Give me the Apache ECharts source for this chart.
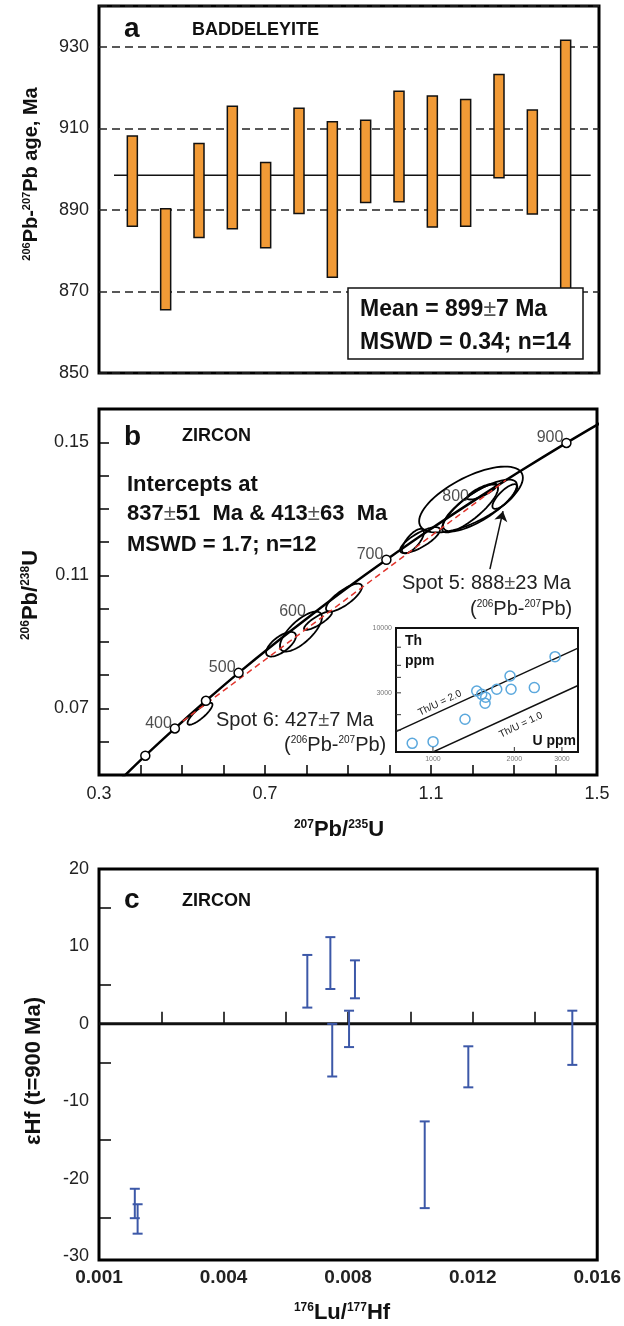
<!DOCTYPE html>
<html>
<head>
<meta charset="utf-8">
<script src="https://cdn.jsdelivr.net/npm/echarts@6/dist/echarts.min.js"></script>
<style>
  html, body { margin: 0; padding: 0; background: #fff; }
  #chart { width: 624px; height: 1326px; }
</style>
</head>
<body>
<div id="chart"></div>
<script>
// 字体
const FONT = '"Liberation Sans", Arial, sans-serif';

// ---- a: 斜锆石 206Pb-207Pb 年龄 ----
const aSpots = [1, 2, 3, 4, 5, 6, 7, 8, 9, 10, 11, 12, 13, 14];
const aLow = [886.0, 865.5, 883.2, 885.4, 880.7, 889.1, 873.5, 891.8, 892.0, 885.8, 886.0, 897.9, 889.0, 867.0];
const aHigh = [908.1, 890.3, 906.3, 915.4, 901.6, 914.9, 911.6, 912.0, 919.1, 917.9, 917.1, 923.2, 914.5, 931.6];
const aMeanLine = [[0.45, 898.5], [14.75, 898.5]];
const aYTickLabels = [850, 870, 890, 910, 930];

// ---- b: 谐和图 ----
const concAges = [300, 350, 400, 450, 500, 550, 600, 650, 700, 750, 800, 850, 900, 950];
const concX = [0.3437, 0.4116, 0.4828, 0.5577, 0.6363, 0.7189, 0.8056, 0.8968, 0.9925, 1.0931, 1.1987, 1.3097, 1.4263, 1.5488];
const concY = [0.0476, 0.0558, 0.0640, 0.0723, 0.0807, 0.0891, 0.0975, 0.1061, 0.1147, 0.1234, 0.1321, 0.1409, 0.1498, 0.1588];
const markerAges = [350, 400, 450, 500, 700, 900];
const labelAges = [400, 500, 600, 700, 800, 900];
const discordX = [0.5019, 1.2803];
const discordY = [0.0662, 0.1386];
// 误差椭圆: 中心, 半宽, 相关系数
const ellX = [0.5434, 0.7386, 0.7867, 0.8277, 0.8904, 1.0566, 1.0735, 1.1964, 1.1940, 1.2180, 1.2230, 1.2780];
const ellY = [0.0684, 0.0893, 0.0931, 0.0964, 0.1033, 0.1203, 0.1206, 0.1328, 0.1301, 0.1310, 0.1352, 0.1337];
const ellSX = [0.030, 0.036, 0.0506, 0.0337, 0.0434, 0.0265, 0.048, 0.125, 0.0675, 0.089, 0.036, 0.030];
const ellSY = [0.0033, 0.0037, 0.0060, 0.0028, 0.0042, 0.0037, 0.0039, 0.0099, 0.0072, 0.0078, 0.0024, 0.0037];
const ellRho = [0.84, 0.67, 0.72, 0.85, 0.78, 0.72, 0.78, 0.66, 0.83, 0.78, 0.80, 0.78];
const spot5Arrow = [[1.242, 0.1119], [1.2735, 0.1293]];
const bXLabels = ['0.3', '0.7', '1.1', '1.5'];
const bYLabels = ['0.07', '0.11', '0.15'];

// 插图: Th-U
const insetU = [838, 1001, 1314, 1452, 1515, 1567, 1559, 1722, 1928, 1945, 2371, 2829];
const insetTh = [1175, 1211, 1836, 3105, 2918, 2761, 2471, 3205, 4105, 3205, 3305, 5874];
const thu2Line = [[730, 1460], [3440, 6880]];
const thu1Line = [[730, 730], [3440, 3440]];
const insetXTicks = [1000, 2000, 3000];
const insetYLabels = [3000, 10000];
const insetYTicks = [1500, 2000, 3000, 4000, 5000, 7000];

// ---- c: εHf vs 176Lu/177Hf ----
const cLuHf = [0.00115, 0.00124, 0.00669, 0.00743, 0.00749, 0.00803, 0.00822, 0.01046, 0.01186, 0.0152];
const cLow = [-25.1, -27.1, 2.1, 4.5, -6.8, -3.0, 3.3, -23.8, -8.2, -5.3];
const cHigh = [-21.3, -23.3, 8.9, 11.2, 0.0, 1.7, 8.2, -12.6, -2.9, 1.7];
const cZeroLine = [[0, 0], [0.016, 0]];
const cXTickValues = [0, 0.004, 0.008, 0.012, 0.016];
const cXTickLabels = ['0.001', '0.004', '0.008', '0.012', '0.016'];
const cYLabels = [-30, -20, -10, 0, 10, 20];
const cYTicks = [-25, -15, -5, 5, 15];

const tickLabel = { fontFamily: FONT, fontSize: 18, color: '#222' };
const tickLine = { lineStyle: { color: '#000', width: 1.5 } };

function renderBar(params, api) {
    const top = api.coord([api.value(0), api.value(2)]);
    const bottom = api.coord([api.value(0), api.value(1)]);
    return {
        type: 'rect',
        shape: { x: top[0] - 5, y: top[1], width: 10, height: bottom[1] - top[1] },
        style: { fill: '#F19A36', stroke: '#111', lineWidth: 1.5 }
    };
}

function renderEllipse(params, api) {
    const cx = api.value(0), cy = api.value(1);
    const sx = api.value(2), sy = api.value(3), r = api.value(4);
    const k = Math.sqrt(1 - r * r);
    const pts = [];
    for (let j = 0; j < 72; j++) {
        const t = j / 72 * Math.PI * 2;
        pts.push(api.coord([cx + sx * Math.cos(t), cy + sy * (r * Math.cos(t) + k * Math.sin(t))]));
    }
    return { type: 'polygon', shape: { points: pts }, style: { fill: 'none', stroke: '#000', lineWidth: 1.8 } };
}

function renderErrorBar(params, api) {
    const hi = api.coord([api.value(0), api.value(2)]);
    const lo = api.coord([api.value(0), api.value(1)]);
    const w = 5;
    const st = { stroke: '#3C58A8', lineWidth: 2 };
    return {
        type: 'group',
        children: [
            { type: 'line', shape: { x1: hi[0], y1: hi[1], x2: lo[0], y2: lo[1] }, style: st },
            { type: 'line', shape: { x1: hi[0] - w, y1: hi[1], x2: hi[0] + w, y2: hi[1] }, style: st },
            { type: 'line', shape: { x1: lo[0] - w, y1: lo[1], x2: lo[0] + w, y2: lo[1] }, style: st }
        ]
    };
}

const concPt = age => {
    const i = concAges.indexOf(age);
    return [concX[i], concY[i]];
};

const option = {
    animation: false,
    backgroundColor: '#fff',
    grid: [
        { left: 99, top: 6, width: 500, height: 367, show: true, borderColor: '#000', borderWidth: 3 },
        { left: 99, top: 409, width: 498, height: 366, show: true, borderColor: '#000', borderWidth: 3 },
        { left: 396, top: 628, width: 182, height: 124, show: true, borderColor: '#111', borderWidth: 2, backgroundColor: '#fff' },
        { left: 99, top: 869, width: 502, height: 391, show: true, borderColor: '#000', borderWidth: 3 }
    ],
    xAxis: [
        { gridIndex: 0, type: 'value', min: 0, max: 15, show: false },
        {
            gridIndex: 1, type: 'value', min: 0.3, max: 1.5, interval: 0.1,
            axisLine: { show: false },
            axisTick: Object.assign({ inside: true, length: 10 }, tickLine),
            splitLine: { show: false },
            axisLabel: Object.assign({
                margin: 10,
                formatter: v => {
                    const s = (Math.round(v * 10) / 10).toFixed(1);
                    return bXLabels.includes(s) ? s : '';
                }
            }, tickLabel)
        },
        {
            gridIndex: 2, type: 'log', min: 730, max: 3440,
            axisLine: { show: false }, axisTick: { show: false }, axisLabel: { show: false }, splitLine: { show: false }
        },
        {
            gridIndex: 3, type: 'value', min: 0, max: 0.016, interval: 0.002,
            axisLine: { show: false },
            axisTick: Object.assign({ inside: true, length: 12 }, tickLine),
            splitLine: { show: false },
            axisLabel: {
                margin: 8, fontFamily: FONT, fontSize: 19, fontWeight: 'bold', color: '#222',
                formatter: v => {
                    const i = cXTickValues.findIndex(t => Math.abs(t - v) < 1e-6);
                    return i >= 0 ? cXTickLabels[i] : '';
                }
            }
        }
    ],
    yAxis: [
        {
            gridIndex: 0, type: 'value', min: 850, max: 940, interval: 20,
            axisLine: { show: false }, axisTick: { show: false },
            splitLine: { show: true, lineStyle: { type: [8, 5], color: '#222', width: 1.5 } },
            axisLabel: Object.assign({
                margin: 10,
                formatter: v => aYTickLabels.includes(Math.round(v)) ? String(Math.round(v)) : ''
            }, tickLabel)
        },
        {
            gridIndex: 1, type: 'value', min: 0.05, max: 0.16, interval: 0.01,
            axisLine: { show: false },
            axisTick: Object.assign({ inside: true, length: 10 }, tickLine),
            splitLine: { show: false },
            axisLabel: Object.assign({
                margin: 10,
                formatter: v => {
                    const s = (Math.round(v * 100) / 100).toFixed(2);
                    return bYLabels.includes(s) ? s : '';
                }
            }, tickLabel)
        },
        {
            gridIndex: 2, type: 'log', min: 1000, max: 10000,
            axisLine: { show: false }, axisTick: { show: false }, axisLabel: { show: false }, splitLine: { show: false }
        },
        {
            gridIndex: 3, type: 'value', min: -30.5, max: 20,
            axisLine: { show: false },
            axisTick: Object.assign({ inside: true, length: 12, customValues: cYTicks }, tickLine),
            splitLine: { show: false },
            axisLabel: Object.assign({ margin: 10, customValues: cYLabels }, tickLabel)
        }
    ],
    series: [
        // a
        {
            type: 'line', xAxisIndex: 0, yAxisIndex: 0, data: aMeanLine, symbol: 'none', z: 1,
            lineStyle: { color: '#111', width: 1.5 }
        },
        {
            type: 'custom', xAxisIndex: 0, yAxisIndex: 0, renderItem: renderBar, z: 3,
            encode: { x: 0, y: [1, 2] },
            data: aSpots.map((s, i) => [s, aLow[i], aHigh[i]])
        },
        // b
        {
            type: 'line', xAxisIndex: 1, yAxisIndex: 1, symbol: 'none', smooth: 0.3,
            lineStyle: { color: '#000', width: 2.5 },
            data: concX.map((x, i) => [x, concY[i]])
        },
        {
            type: 'line', xAxisIndex: 1, yAxisIndex: 1, symbol: 'none',
            lineStyle: { color: '#E0342C', width: 1.5, type: [6, 4] },
            data: discordX.map((x, i) => [x, discordY[i]])
        },
        {
            type: 'custom', xAxisIndex: 1, yAxisIndex: 1, renderItem: renderEllipse, z: 3,
            encode: { x: 0, y: 1 },
            data: ellX.map((x, i) => [x, ellY[i], ellSX[i], ellSY[i], ellRho[i]])
        },
        {
            type: 'scatter', xAxisIndex: 1, yAxisIndex: 1, symbolSize: 9, z: 4,
            itemStyle: { color: '#fff', borderColor: '#000', borderWidth: 1.5, opacity: 1 },
            data: markerAges.map(concPt)
        },
        {
            type: 'scatter', xAxisIndex: 1, yAxisIndex: 1, symbolSize: 0, z: 4,
            label: {
                show: true, position: 'left', distance: 3, offset: [0, -5],
                fontFamily: FONT, fontSize: 16, color: '#222',
                formatter: p => String(labelAges[p.dataIndex])
            },
            data: labelAges.map(concPt)
        },
        {
            type: 'lines', coordinateSystem: 'cartesian2d', xAxisIndex: 1, yAxisIndex: 1, z: 4,
            symbol: ['none', 'arrow'], symbolSize: 10,
            lineStyle: { color: '#111', width: 1.5, opacity: 1 },
            data: [{ coords: spot5Arrow }]
        },
        // 插图
        {
            type: 'line', xAxisIndex: 2, yAxisIndex: 2, symbol: 'none', z: 4,
            lineStyle: { color: '#111', width: 1.5 }, data: thu2Line
        },
        {
            type: 'line', xAxisIndex: 2, yAxisIndex: 2, symbol: 'none', z: 4,
            lineStyle: { color: '#111', width: 1.5 }, data: thu1Line
        },
        {
            type: 'scatter', xAxisIndex: 2, yAxisIndex: 2, symbolSize: 10, z: 5,
            itemStyle: { color: 'rgba(255,255,255,0)', borderColor: '#5BA8DD', borderWidth: 1.5, opacity: 1 },
            data: insetU.map((u, i) => [u, insetTh[i]])
        },
        // c
        {
            type: 'line', xAxisIndex: 3, yAxisIndex: 3, symbol: 'none', z: 2,
            lineStyle: { color: '#111', width: 3 }, data: cZeroLine
        },
        {
            type: 'custom', xAxisIndex: 3, yAxisIndex: 3, renderItem: renderErrorBar, z: 3,
            encode: { x: 0, y: [1, 2] },
            data: cLuHf.map((x, i) => [x, cLow[i], cHigh[i]])
        }
    ]
};

const chart = echarts.init(document.getElementById('chart'));
chart.setOption(option);

// 文字注释
const boldRich = (size, sup) => ({
    n: { fontFamily: FONT, fontSize: size, fontWeight: 'bold', fill: '#111' },
    s: { fontFamily: FONT, fontSize: sup, fontWeight: 'bold', fill: '#111', verticalAlign: 'top' },
    pm: { fontFamily: FONT, fontSize: size, fontWeight: 'normal', fill: '#555' }
});
const normRich = (size, sup) => ({
    n: { fontFamily: FONT, fontSize: size, fill: '#222' },
    s: { fontFamily: FONT, fontSize: sup, fill: '#222', verticalAlign: 'top' },
    pm: { fontFamily: FONT, fontSize: size, fill: '#555' }
});

function txt(x, y, text, rich) {
    return {
        type: 'text', x: x, y: y, z: 100,
        style: { text: text, rich: rich, align: 'left', verticalAlign: 'middle' }
    };
}
function ctr(x, y, text, rich, rot) {
    return {
        type: 'text', x: x, y: y, z: 100, rotation: rot || 0,
        style: { text: text, rich: rich, align: 'center', verticalAlign: 'middle' }
    };
}

const graphics = [
    // a
    txt(124, 29, '{n|a}', boldRich(28, 14)),
    txt(192, 30, '{n|BADDELEYITE}', boldRich(18, 10)),
    { type: 'rect', z: 99, shape: { x: 348, y: 288, width: 235, height: 71 }, style: { fill: '#fff', stroke: '#111', lineWidth: 1.5 } },
    txt(360, 310, '{n|Mean = 899}{pm|±}{n|7 Ma}', boldRich(23, 12)),
    txt(360, 343, '{n|MSWD = 0.34; n=14}', boldRich(23, 12)),
    ctr(31, 174, '{s|206}{n|Pb-}{s|207}{n|Pb age, Ma}', boldRich(20, 11), Math.PI / 2),
    // b
    txt(124, 437, '{n|b}', boldRich(28, 14)),
    txt(182, 436, '{n|ZIRCON}', boldRich(18, 10)),
    txt(127, 485, '{n|Intercepts at}', boldRich(22, 12)),
    txt(127, 514, '{n|837}{pm|±}{n|51  Ma & 413}{pm|±}{n|63  Ma}', boldRich(22, 12)),
    txt(127, 545, '{n|MSWD = 1.7; n=12}', boldRich(22, 12)),
    txt(402, 583, '{n|Spot 5: 888}{pm|±}{n|23 Ma}', normRich(20, 10)),
    txt(470, 609, '{n|(}{s|206}{n|Pb-}{s|207}{n|Pb)}', normRich(20, 10)),
    txt(216, 720, '{n|Spot 6: 427}{pm|±}{n|7 Ma}', normRich(20, 10)),
    txt(284, 745, '{n|(}{s|206}{n|Pb-}{s|207}{n|Pb)}', normRich(20, 10)),
    ctr(31, 595, '{s|206}{n|Pb/}{s|238}{n|U}', boldRich(22, 12), Math.PI / 2),
    ctr(339, 830, '{s|207}{n|Pb/}{s|235}{n|U}', boldRich(22, 12)),
    // 插图
    txt(405, 641, '{n|Th}', boldRich(14, 8)),
    txt(405, 661, '{n|ppm}', boldRich(14, 8)),
    {
        type: 'text', x: 576, y: 741, z: 100,
        style: { text: '{n|U ppm}', rich: boldRich(14, 8), align: 'right', verticalAlign: 'middle' }
    },
    ctr(440, 703, '{n|Th/U = 2.0}', normRich(10, 7), 0.45),
    ctr(521, 725, '{n|Th/U = 1.0}', normRich(10, 7), 0.45),
    // c
    txt(124, 900, '{n|c}', boldRich(28, 14)),
    txt(182, 901, '{n|ZIRCON}', boldRich(18, 10)),
    ctr(34, 1071, '{n|εHf (t=900 Ma)}', boldRich(22, 12), Math.PI / 2),
    ctr(342, 1313, '{s|176}{n|Lu/}{s|177}{n|Hf}', boldRich(22, 12))
];

// 插图刻度 (对数坐标)
const small = { fontFamily: FONT, fontSize: 7, fill: '#777' };
insetXTicks.forEach(u => {
    const p = chart.convertToPixel({ gridIndex: 2 }, [u, 1000]);
    graphics.push({ type: 'line', z: 100, shape: { x1: p[0], y1: p[1], x2: p[0], y2: p[1] - 5 }, style: { stroke: '#333', lineWidth: 1 } });
    graphics.push({ type: 'text', x: p[0], y: p[1] + 7, z: 100, style: Object.assign({ text: String(u), align: 'center', verticalAlign: 'middle' }, small) });
});
insetYTicks.forEach(t => {
    const p = chart.convertToPixel({ gridIndex: 2 }, [730, t]);
    graphics.push({ type: 'line', z: 100, shape: { x1: p[0], y1: p[1], x2: p[0] + 5, y2: p[1] }, style: { stroke: '#333', lineWidth: 1 } });
});
insetYLabels.forEach(t => {
    const p = chart.convertToPixel({ gridIndex: 2 }, [730, t]);
    graphics.push({ type: 'text', x: p[0] - 4, y: p[1], z: 100, style: Object.assign({ text: String(t), align: 'right', verticalAlign: 'middle' }, small) });
});

chart.setOption({ graphic: graphics });
</script>
</body>
</html>
